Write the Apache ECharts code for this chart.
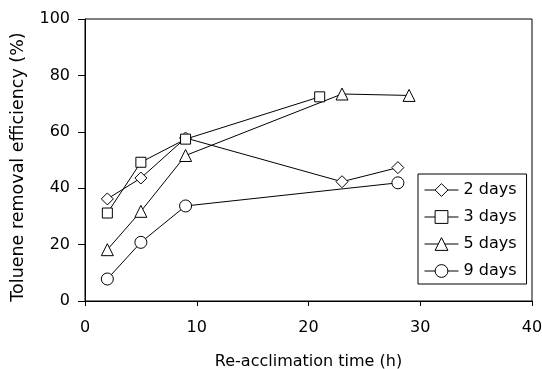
<!DOCTYPE html>
<html>
<head>
<meta charset="utf-8">
<script src="https://cdn.jsdelivr.net/npm/echarts@6/dist/echarts.min.js"></script>
<style>
  html, body { margin: 0; padding: 0; background: #fff; }
  #chart { width: 542px; height: 369px; }
</style>
</head>
<body>
<div id="chart"></div>
<script>
// re-acclimation time (h) and removal efficiency (%) per starvation period
const days2X = [2, 5, 9, 23, 28]
const days2Y = [36.2, 43.6, 57.8, 42.3, 47.3]
const days3X = [2, 5, 9, 21]
const days3Y = [31.2, 49.2, 57.4, 72.4]
const days5X = [2, 5, 9, 23, 29]
const days5Y = [18.2, 31.8, 51.6, 73.4, 72.9]
const days9X = [2, 5, 9, 28]
const days9Y = [7.8, 20.8, 33.7, 41.9]

const FONT = 'DejaVu Sans, sans-serif'

function pairs(xs, ys) {
  return xs.map((x, i) => [x, ys[i]])
}

function makeSeries(name, symbol, size, xs, ys) {
  return {
    name,
    type: 'line',
    symbol,
    symbolSize: size,
    showAllSymbol: true,
    lineStyle: { color: '#000', width: 1 },
    itemStyle: { color: '#fff', borderColor: '#000', borderWidth: 1 },
    emphasis: { disabled: true },
    data: pairs(xs, ys),
  }
}

const chart = echarts.init(document.getElementById('chart'))
chart.setOption({
  animation: false,
  grid: {
    left: 85, right: 10, top: 19, bottom: 68,
    outerBoundsMode: 'none',
    show: true, borderColor: '#000', borderWidth: 1,
  },
  legend: {
    orient: 'vertical',
    left: 418,
    top: 174,
    padding: [8, 10, 5, 6],
    itemWidth: 34,
    itemHeight: 16,
    itemGap: 11,
    borderColor: '#000',
    borderWidth: 1,
    lineStyle: { width: 1, color: '#000' },
    itemStyle: { color: '#fff', borderColor: '#000', borderWidth: 1 },
    textStyle: { fontFamily: FONT, fontSize: 16, color: '#000' },
    data: ['2 days', '3 days', '5 days', '9 days'],
  },
  xAxis: {
    type: 'value',
    min: 0, max: 40, interval: 10,
    name: 'Re-acclimation time (h)',
    nameLocation: 'middle',
    nameGap: 53,
    nameTextStyle: { fontFamily: FONT, fontSize: 16, color: '#000' },
    axisLine: { lineStyle: { color: '#000', width: 1 } },
    axisTick: { show: true, length: 5, lineStyle: { color: '#000' } },
    axisLabel: { margin: 19, fontFamily: FONT, fontSize: 16, color: '#000' },
    splitLine: { show: false },
  },
  yAxis: {
    type: 'value',
    min: 0, max: 100, interval: 20,
    name: 'Toluene removal efficiency (%)',
    nameLocation: 'middle',
    nameGap: 58,
    nameTextStyle: { fontFamily: FONT, fontSize: 17.5, color: '#000', padding: [0, 14, 0, 0] },
    axisLine: { show: true, lineStyle: { color: '#000', width: 1 } },
    axisTick: { show: true, length: 7, lineStyle: { color: '#000' } },
    axisLabel: { margin: 15, fontFamily: FONT, fontSize: 16, color: '#000' },
    splitLine: { show: false },
  },
  series: [
    makeSeries('2 days', 'diamond', 12, days2X, days2Y),
    makeSeries('3 days', 'rect', 10, days3X, days3Y),
    makeSeries('5 days', 'triangle', 12, days5X, days5Y),
    makeSeries('9 days', 'circle', 12, days9X, days9Y),
  ],
})
</script>
</body>
</html>
